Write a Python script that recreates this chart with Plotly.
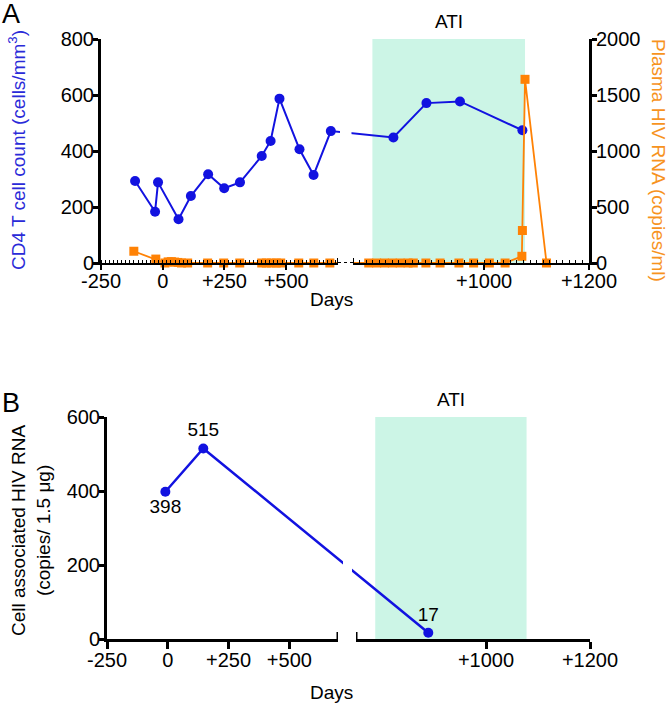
import plotly.graph_objects as go

W, H = 670, 706

# ---------------- data ----------------
cd4_days = [-112, -31, -19, 64, 114, 184, 249, 313, 401, 437, 473, 554, 611, 681, 827, 890, 954, 1073]
cd4_vals = [293, 183, 288, 156, 239, 317, 267, 288, 382, 436, 587, 406, 314, 471, 448, 571, 577, 474]

vl_days = [-117, -28, 9, 22, 35, 48, 62, 76, 101, 182, 247, 312, 401, 420, 440, 460, 478, 551, 612, 677,
           780, 795, 810, 825, 840, 855, 865, 889, 916, 952, 980, 1010, 1040, 1072, 1073, 1078, 1119]
vl_vals = [105, 35, 0, 10, 12, 8, 5, 0, 0, 0, 0, 0, 0, 0, 0, 0, 0, 0, 0, 0,
           0, 0, 0, 0, 0, 0, 0, 0, 0, 0, 0, 0, 0, 60, 290, 1640, 0]

ca_days = [-10, 146, 889]
ca_vals = [398, 515, 17]
ca_labels = ["398", "515", "17"]
ca_textpos = ["bottom center", "top center", "top center"]

ati_days = [787, 1078]

a_seg1_ticks = [-250, 0, 250, 500]
a_seg1_text = ["-250", "0", "+250", "+500"]
seg2_ticks = [1000, 1200]
seg2_text = ["+1000", "+1200"]

# ---------------- layout geometry (pixels) ----------------
A_SEG1_PX, A_SEG1_RNG = (101, 338), (-250, 710)
A_SEG2_PX, A_SEG2_RNG = (353, 589), (750, 1200)
A_Y_PX = (39, 263)
B_SEG1_PX, B_SEG1_RNG = (107, 338), (-250, 700)
B_SEG2_PX, B_SEG2_RNG = (356, 590), (750, 1200)
B_Y_PX = (417, 639)

BLUE = "#1212e0"
BLUE_TXT = "#2a2ad8"
ORANGE = "#ff8205"
ORANGE_TXT = "#f7931e"
ATI_COL = "#ccf5e6"
FONT = "Arial, Liberation Sans, sans-serif"
FS = 19
TFS = 20


def fx(p):
    return p / W


def fy(p):
    return 1 - p / H


def broken_scale(s1px, s1r, s2px, s2r):
    def f(d):
        if d <= s1r[1]:
            return s1px[0] + (d - s1r[0]) / (s1r[1] - s1r[0]) * (s1px[1] - s1px[0])
        return s2px[0] + (d - s2r[0]) / (s2r[1] - s2r[0]) * (s2px[1] - s2px[0])
    return f


TA = broken_scale(A_SEG1_PX, A_SEG1_RNG, A_SEG2_PX, A_SEG2_RNG)
TB = broken_scale(B_SEG1_PX, B_SEG1_RNG, B_SEG2_PX, B_SEG2_RNG)

fig = go.Figure()

# dummy traces so segment axes render (added first so their layers sit below)
for xa, ya in [("x2", "y"), ("x3", "y"), ("x5", "y3"), ("x6", "y3")]:
    fig.add_trace(go.Scatter(x=[], y=[], xaxis=xa, yaxis=ya, showlegend=False, hoverinfo="skip"))

# panel A traces (on hidden broken-scale axis x)
fig.add_trace(go.Scatter(x=[TA(d) for d in vl_days], y=vl_vals, xaxis="x", yaxis="y2",
                         mode="lines+markers", line=dict(color=ORANGE, width=1.8),
                         marker=dict(symbol="square", size=9, color=ORANGE),
                         cliponaxis=False, showlegend=False))
fig.add_trace(go.Scatter(x=[TA(d) for d in cd4_days], y=cd4_vals, xaxis="x", yaxis="y",
                         mode="lines+markers", line=dict(color=BLUE, width=2),
                         marker=dict(symbol="circle", size=10, color=BLUE),
                         cliponaxis=False, showlegend=False))
# panel B
fig.add_trace(go.Scatter(x=[TB(d) for d in ca_days], y=ca_vals, xaxis="x4", yaxis="y3",
                         mode="lines+markers+text", text=ca_labels, textposition=ca_textpos,
                         textfont=dict(size=FS, color="black", family=FONT),
                         line=dict(color=BLUE, width=2.5),
                         marker=dict(symbol="circle", size=10, color=BLUE),
                         cliponaxis=False, showlegend=False))

tickfont = dict(size=TFS, color="black", family=FONT)

ydomA = [fy(A_Y_PX[1]), fy(A_Y_PX[0])]
ydomB = [fy(B_Y_PX[1]), fy(B_Y_PX[0])]

common_y = dict(showgrid=False, zeroline=False, showline=True, linecolor="black", linewidth=3,
                ticks="outside", ticklen=5, tickwidth=2.5, tickcolor="black", tickfont=tickfont,
                automargin=False, ticklabelstandoff=-5)


def seg_axis(px, rng, anchor, tv, tt, lw, tl, tw, minor=None):
    d = dict(domain=[fx(px[0]), fx(px[1])], range=list(rng), anchor=anchor,
             tickvals=tv, ticktext=tt, showgrid=False, zeroline=False,
             showline=True, linecolor="black", linewidth=lw, ticks="outside", ticklen=tl,
             tickwidth=tw, tickcolor="black", tickfont=tickfont, automargin=False,
             ticklabelstandoff=-6)
    if minor:
        d["minor"] = minor
    return d


fig.update_layout(
    width=W, height=H, margin=dict(l=0, r=0, t=0, b=0, pad=0, autoexpand=False),
    paper_bgcolor="white", plot_bgcolor="rgba(0,0,0,0)",
    font=dict(family=FONT, size=FS, color="black"),
    xaxis=dict(domain=[fx(A_SEG1_PX[0]), fx(A_SEG2_PX[1])], range=[A_SEG1_PX[0], A_SEG2_PX[1]],
               visible=False, anchor="y", automargin=False),
    yaxis=dict(domain=ydomA, range=[0, 800], tickvals=[0, 200, 400, 600, 800], anchor="x",
               side="left", **common_y),
    yaxis2=dict(range=[0, 2000], tickvals=[0, 500, 1000, 1500, 2000], anchor="x", side="right",
                overlaying="y", **common_y),
    xaxis2=seg_axis(A_SEG1_PX, A_SEG1_RNG, "y", a_seg1_ticks, a_seg1_text, 1.5, 5, 2,
                    dict(ticks="inside", ticklen=3, tickwidth=1, tickcolor="black",
                         tick0=-250, dtick=250 / 15, showgrid=False)),
    xaxis3=seg_axis(A_SEG2_PX, A_SEG2_RNG, "y", seg2_ticks, seg2_text, 1.5, 5, 2,
                    dict(ticks="inside", ticklen=3, tickwidth=1, tickcolor="black",
                         tick0=750, dtick=12.5, showgrid=False)),
    xaxis4=dict(domain=[fx(B_SEG1_PX[0]), fx(B_SEG2_PX[1])], range=[B_SEG1_PX[0], B_SEG2_PX[1]],
                visible=False, anchor="y3", automargin=False),
    yaxis3=dict(domain=ydomB, range=[0, 600], tickvals=[0, 200, 400, 600], anchor="x4",
                side="left", **common_y),
    xaxis5=seg_axis(B_SEG1_PX, B_SEG1_RNG, "y3", a_seg1_ticks, a_seg1_text, 3, 7, 2.5),
    xaxis6=seg_axis(B_SEG2_PX, B_SEG2_RNG, "y3", seg2_ticks, seg2_text, 3, 7, 2.5),
)

shapes = [
    # ATI bands (on the broken-scale data axes so they sit beneath the data)
    dict(type="rect", xref="x", yref="y", x0=TA(ati_days[0]), x1=TA(ati_days[1]), y0=0, y1=800,
         fillcolor=ATI_COL, line=dict(width=0), layer="below"),
    dict(type="rect", xref="x4", yref="y3", x0=TB(ati_days[0]), x1=TB(ati_days[1]), y0=0, y1=600,
         fillcolor=ATI_COL, line=dict(width=0), layer="below"),
    # gaps at axis breaks
    dict(type="rect", xref="x", yref="paper", x0=A_SEG1_PX[1] + 2, x1=A_SEG2_PX[0] - 1.5,
         y0=fy(268), y1=fy(A_Y_PX[0]), fillcolor="white", line=dict(width=0), layer="above"),
    dict(type="rect", xref="x4", yref="paper", x0=B_SEG1_PX[1] + 5, x1=B_SEG2_PX[0] - 4,
         y0=fy(630), y1=fy(B_Y_PX[0]), fillcolor="white", line=dict(width=0), layer="above"),
]
# dotted baseline through panel A break
shapes.append(dict(type="line", xref="x", yref="y", x0=A_SEG1_PX[1], x1=A_SEG2_PX[0], y0=0, y1=0,
                   line=dict(color="black", width=2, dash="dot"), layer="above"))
# break marks
for xr, yr, xv, lw, hl in [("x2", "y", A_SEG1_RNG[1], 2, 5), ("x3", "y", A_SEG2_RNG[0], 2, 5),
                           ("x5", "y3", B_SEG1_RNG[1], 3, 7), ("x6", "y3", B_SEG2_RNG[0], 3, 7)]:
    shapes.append(dict(type="line", xref=xr, yref=yr, x0=xv, x1=xv, ysizemode="pixel", yanchor=0,
                       y0=-hl, y1=hl, line=dict(color="black", width=lw), layer="above"))
fig.update_layout(shapes=shapes)

ann = [
    dict(text="A", x=fx(0), y=fy(-3), xanchor="left", yanchor="top", font=dict(size=27)),
    dict(text="B", x=fx(0), y=fy(386), xanchor="left", yanchor="top", font=dict(size=27)),
    dict(text="ATI", xref="x", yref="y", x=(TA(ati_days[0]) + TA(ati_days[1])) / 2, y=800,
         yanchor="bottom", yshift=5, font=dict(size=FS)),
    dict(text="ATI", xref="x4", yref="y3", x=(TB(ati_days[0]) + TB(ati_days[1])) / 2, y=600,
         yanchor="bottom", yshift=5, font=dict(size=FS)),
    dict(text="Days", x=fx(331), y=fy(300), font=dict(size=FS)),
    dict(text="Days", x=fx(331), y=fy(692), font=dict(size=FS)),
    dict(text="CD4 T cell count (cells/mm<sup>3</sup>)", x=fx(17), y=fy(150), textangle=-90,
         font=dict(size=FS, color=BLUE_TXT)),
    dict(text="Plasma HIV RNA (copies/ml)", x=fx(659), y=fy(160), textangle=90,
         font=dict(size=FS, color=ORANGE_TXT)),
    dict(text="Cell associated HIV RNA<br>(copies/ 1.5 μg)", x=fx(31), y=fy(530), textangle=-90,
         font=dict(size=FS)),
]
for a in ann:
    a.setdefault("xref", "paper")
    a.setdefault("yref", "paper")
    a.setdefault("showarrow", False)
    a.setdefault("xanchor", "center")
    a.setdefault("yanchor", "middle")
fig.update_layout(annotations=ann)

fig.write_html("out.html", config={"displayModeBar": False},
               post_script="document.body.style.margin='0';")
